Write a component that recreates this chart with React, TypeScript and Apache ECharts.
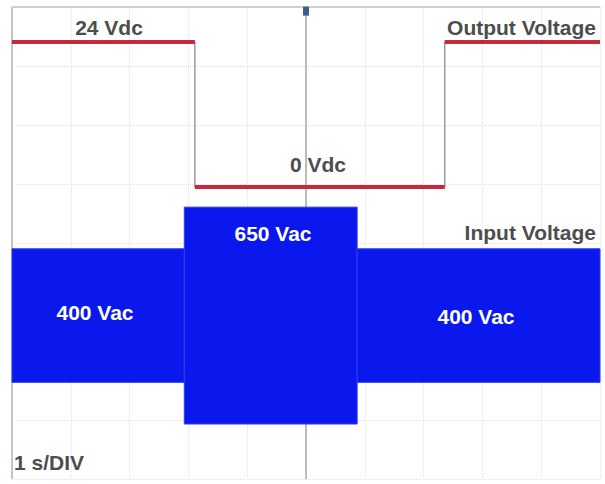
import React, { useEffect, useRef } from "react";
import * as echarts from "echarts";

// Time axis: 10 divisions, 1 s/DIV
const timeDivisions = 10;
const voltDivisions = 8;

// Output voltage (Vdc): level between successive change times
const outputTimes = [0, 3.11, 7.36, 10];
const outputLevels = [24, 0, 24];

// Input voltage: rms label and read peak amplitude (V) between change times
const inputTimes = [0, 2.93, 5.87, 10];
const inputRms = [400, 650, 400];
const inputPeak = [566, 919, 566];

// Labels
const outputLabels = ["24 Vdc", "0 Vdc"];
const channelLabels = ["Output Voltage", "Input Voltage"];
const timebaseLabel = "1 s/DIV";

const FONT = "'Liberation Sans', Arial, sans-serif";
const TEXT_GRAY = "#4d4d4d";

function stepPoints(times: number[], levels: number[]): number[][] {
  const pts: number[][] = [];
  for (let i = 0; i < levels.length; i++) {
    pts.push([times[i], levels[i]]);
    pts.push([times[i + 1], levels[i]]);
  }
  return pts;
}

export default function App() {
  const ref = useRef<HTMLDivElement>(null);

  useEffect(() => {
    if (!ref.current) return;
    const chart = echarts.init(ref.current, null, { renderer: "svg" });

    const outPts = stepPoints(outputTimes, outputLevels);
    const bandData = inputPeak.map((p, i) => [inputTimes[i], inputTimes[i + 1], p]);

    const redSegments = outputLevels.map((lvl, i) => ({
      type: "line",
      yAxisIndex: 1,
      showSymbol: false,
      silent: true,
      z: 5,
      lineStyle: { color: "#c42a3e", width: 4 },
      data: [
        [outputTimes[i], lvl],
        [outputTimes[i + 1], lvl],
      ],
    }));

    const txt = (
      text: string,
      x: number,
      y: number,
      align: string,
      color: string
    ) => ({
      type: "text",
      x,
      y,
      z: 100,
      style: {
        text,
        fill: color,
        font: `bold 21px ${FONT}`,
        align,
        verticalAlign: "middle",
      },
    });

    chart.setOption({
      animation: false,
      backgroundColor: "#ffffff",
      grid: { left: 12, top: 7, width: 588, height: 472, show: false },
      xAxis: {
        type: "value",
        min: 0,
        max: timeDivisions,
        interval: 1,
        axisLine: { show: false },
        axisTick: { show: false },
        axisLabel: { show: false },
        splitLine: {
          show: true,
          lineStyle: { color: "#e2e2e2", type: "dotted", width: 1 },
        },
      },
      yAxis: [
        {
          type: "value",
          min: 0,
          max: voltDivisions,
          interval: 1,
          axisLine: { show: false },
          axisTick: { show: false },
          axisLabel: { show: false },
          splitLine: {
            show: true,
            lineStyle: { color: "#e2e2e2", type: "dotted", width: 1 },
          },
        },
        { type: "value", show: false, min: -48.3, max: 29.8 },
        { type: "value", show: false, min: -1385, max: 2615 },
      ],
      series: [
        // frame & centre line
        {
          type: "line",
          yAxisIndex: 0,
          data: [],
          silent: true,
          z: 1,
          markLine: {
            silent: true,
            z: 1,
            symbol: "none",
            label: { show: false },
            data: [
              { xAxis: 0, lineStyle: { color: "#c4c4c4", width: 2, type: "solid" } },
              { xAxis: 5, lineStyle: { color: "#a8a8a8", width: 1.5, type: "solid" } },
              { yAxis: 8, lineStyle: { color: "#cfcfcf", width: 2, type: "solid" } },
            ],
          },
          markPoint: {
            silent: true,
            z: 6,
            symbol: "rect",
            symbolSize: [6, 9],
            itemStyle: { color: "#3d5f8f" },
            label: { show: false },
            data: [{ coord: [5, 7.93] }],
          },
        },
        // gray full output trace (transitions)
        {
          type: "line",
          yAxisIndex: 1,
          showSymbol: false,
          silent: true,
          z: 4,
          lineStyle: { color: "#9a9a9a", width: 1.5 },
          data: outPts,
        },
        ...redSegments,
        // input voltage envelope
        {
          type: "custom",
          yAxisIndex: 2,
          silent: true,
          z: 3,
          data: bandData,
          renderItem: (params: any, api: any) => {
            const t0 = api.value(0);
            const t1 = api.value(1);
            const pk = api.value(2);
            const a = api.coord([t0, pk]);
            const b = api.coord([t1, -pk]);
            return {
              type: "rect",
              shape: { x: a[0], y: a[1], width: b[0] - a[0], height: b[1] - a[1] },
              style: { fill: "#0a18ee", stroke: "#2a3cf0", lineWidth: 1 },
            };
          },
        },
      ],
      graphic: [
        txt(outputLabels[0], 109, 27, "center", TEXT_GRAY),
        txt(channelLabels[0], 596, 27, "right", TEXT_GRAY),
        txt(outputLabels[1], 318, 164, "center", TEXT_GRAY),
        txt(`${inputRms[1]} Vac`, 273, 233, "center", "#ffffff"),
        txt(channelLabels[1], 596, 232, "right", TEXT_GRAY),
        txt(`${inputRms[0]} Vac`, 95, 312, "center", "#ffffff"),
        txt(`${inputRms[2]} Vac`, 476, 316, "center", "#ffffff"),
        txt(timebaseLabel, 14, 462, "left", TEXT_GRAY),
      ],
    });

    return () => chart.dispose();
  }, []);

  return (
    <div
      ref={ref}
      style={{ position: "fixed", left: 0, top: 0, width: 605, height: 484 }}
    />
  );
}
